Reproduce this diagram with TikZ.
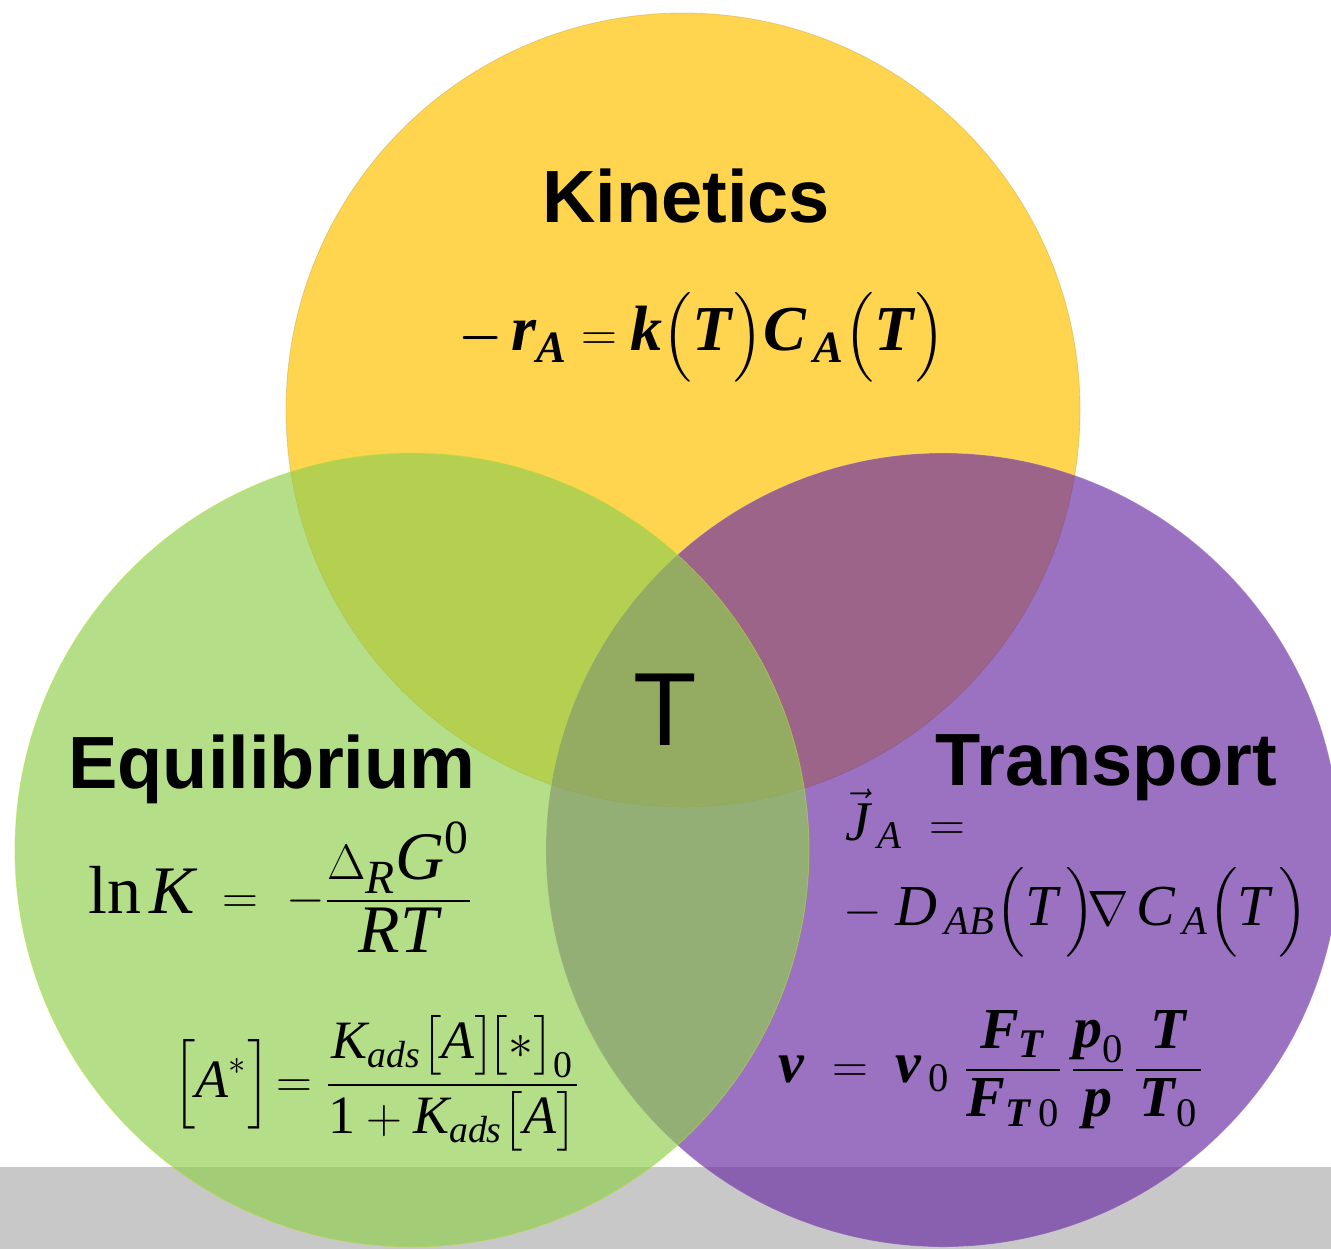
\documentclass[tikz,border=0pt]{standalone}
\usepackage{amsmath}
\usepackage{fontspec}
\setmainfont{Liberation Serif}
\newfontfamily\headfont{Liberation Sans}

% letters of the formulas in Times-like text faces
\newcommand{\mv}[1]{\textit{#1}}
\newcommand{\mb}[1]{\textbf{\textit{#1}}}
\newcommand{\mr}[1]{\textup{#1}}

\definecolor{kinyellow}{RGB}{255,213,80}
\definecolor{equgreen}{RGB}{145,206,80}
\definecolor{trapurple}{RGB}{106,45,164}
\definecolor{bandgray}{RGB}{200,200,200}

\begin{document}
\begin{tikzpicture}[x=0.5pt, y=-0.5pt,
  venn/.style={circle, minimum size=397pt, inner sep=0pt},
  head/.style={font=\headfont\bfseries\fontsize{37}{44}\selectfont, anchor=base west, inner sep=0pt},
  eq/.style={anchor=base west, inner sep=0pt}]

% Frame and bottom band
\clip (0,0) rectangle (1331,1249);
\fill[white] (0,0) rectangle (1331,1249);
\fill[bandgray] (0,1167) rectangle (1331,1249);

% Circles
\node[venn, fill=kinyellow, draw=kinyellow!75!black, draw opacity=0.4] (kin) at (683,410) {};
\node[venn, fill=trapurple, fill opacity=0.67, draw=white, draw opacity=0.2] (tra) at (943,850) {};
\node[venn, fill=equgreen, fill opacity=0.67, draw=equgreen!60!yellow, draw opacity=0.5] (equ) at (412,850) {};

% Titles
\node[head, anchor=base] (kint) at (686,222) {Kinetics};
\node[head] (equt) at (68,788) {Equilibrium};
\node[head] (trat) at (935,785) {Transport};
\node[font=\headfont\fontsize{52}{60}\selectfont, anchor=base, inner sep=0pt] (tt) at (665,745) {T};

% Kinetics
\node[eq, font=\fontsize{32}{38}\selectfont] (kineq) at (458,350)
  {$\boldsymbol{-}\,\mb{r}_{\mb{A}} = \mb{k}\Bigl(\mb{T}\Bigr)\mb{C}_{\,\mb{A}}\Bigl(\mb{T}\Bigr)$};

% Equilibrium
\node[eq, font=\fontsize{34}{40}\selectfont] (equeqa) at (88,913)
  {$\mr{ln}\,\mv{K}\;=\;-\dfrac{\Delta_{\mv{R}}\mv{G}^{\mr{0}}}{\;\mv{RT}\;}$};
\node[eq, font=\fontsize{27}{32}\selectfont] (equeqb) at (172,1097)
  {$\Bigl[\mv{A}^*\Bigr]\!= \dfrac{\mv{K}_{\mv{ads}}\bigl[\mv{A}\bigr]\!\bigl[\ast\bigr]_{\mr{0}}}{\mr{1}+\mv{K}_{\mv{ads}}\bigl[\mv{A}\bigr]}$};

% Transport
\node[eq, font=\fontsize{28}{32}\selectfont] (traeqa) at (845,840)
  {$\vec{\mv{J}}_{\,\mv{A}}\;=$};
\node[eq, font=\fontsize{29}{34}\selectfont] (traeqb) at (843,925)
  {$-\;\mv{D}_{\,\mv{AB}}\Bigl(\mv{T}\,\Bigr)\!\nabla\,\mv{C}_{\,\mv{A}}\Bigl(\mv{T}\,\Bigr)$};
\node[eq, font=\fontsize{29}{34}\selectfont] (traeqc) at (778,1082)
  {$\mb{v}\;=\;\mb{v}_{\,\mr{0}}\;\dfrac{\;\mb{F}_{\mb{T}}\;}{\mb{F}_{\mb{T}\,\mr{0}}}\,\dfrac{\mb{p}_{\mr{0}}}{\mb{p}}\,\dfrac{\;\mb{T}\;}{\mb{T}_{\mr{0}}}$};

\end{tikzpicture}
\end{document}
